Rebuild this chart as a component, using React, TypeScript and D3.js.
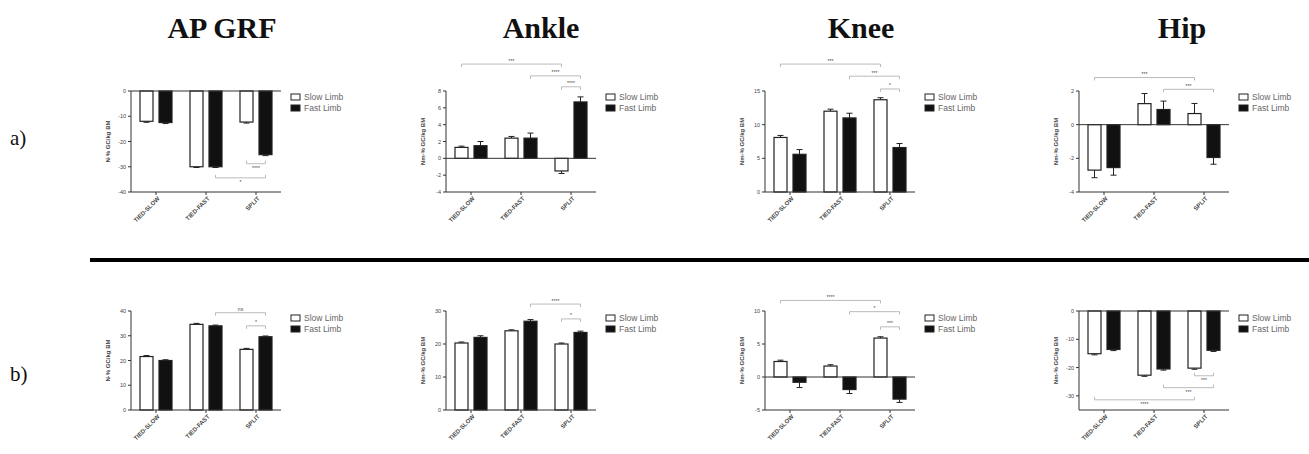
import React from "react";
import * as d3 from "d3";

const categories = ["TIED-SLOW", "TIED-FAST", "SPLIT"];
const limbs = ["Slow Limb", "Fast Limb"];
const columnTitles = ["AP GRF", "Ankle", "Knee", "Hip"];
const rowLabels = ["a)", "b)"];
const yAxisTitles = ["N·% GC/kg BM", "Nm·% GC/kg BM", "Nm·% GC/kg BM", "Nm·% GC/kg BM"];

// panels: row a (AP GRF, Ankle, Knee, Hip), row b (same)
const yDomains = [
  [-40, 0], [-4, 8], [0, 15], [-4, 2],
  [0, 40], [0, 30], [-5, 10], [-35, 0],
];
const yTickValues = [
  [0, -10, -20, -30, -40], [-4, -2, 0, 2, 4, 6, 8], [0, 5, 10, 15], [-4, -2, 0, 2],
  [0, 10, 20, 30, 40], [0, 10, 20, 30], [-5, 0, 5, 10], [0, -10, -20, -30],
];
const slowLimbMeans = [
  [-12, -30, -12.3], [1.3, 2.4, -1.5], [8.1, 12.0, 13.7], [-2.7, 1.25, 0.66],
  [21.6, 34.6, 24.5], [20.3, 24.0, 20.0], [2.35, 1.66, 5.9], [-15.1, -22.7, -20.2],
];
const slowLimbErrors = [
  [0.4, 0.3, 0.4], [0.15, 0.2, 0.3], [0.3, 0.3, 0.3], [0.45, 0.6, 0.6],
  [0.4, 0.4, 0.4], [0.3, 0.3, 0.3], [0.2, 0.2, 0.2], [0.4, 0.4, 0.4],
];
const fastLimbMeans = [
  [-12.5, -30, -25.2], [1.5, 2.4, 6.7], [5.6, 11.0, 6.6], [-2.55, 0.9, -1.95],
  [20.0, 34.0, 29.6], [22.0, 26.9, 23.5], [-0.8, -1.9, -3.35], [-13.6, -20.5, -13.9],
];
const fastLimbErrors = [
  [0.4, 0.3, 0.4], [0.5, 0.6, 0.6], [0.7, 0.7, 0.6], [0.45, 0.5, 0.4],
  [0.3, 0.3, 0.3], [0.5, 0.5, 0.4], [0.8, 0.6, 0.5], [0.4, 0.4, 0.4],
];
// bracket: [fromBar, toBar, yValue, label]; bar index = category*2 + limb
const significance: [number, number, number, string][][] = [
  [[4, 5, -28.8, "****"], [3, 5, -34.4, "*"]],
  [[0, 4, 11.2, "***"], [3, 5, 9.8, "****"], [4, 5, 8.5, "****"]],
  [[0, 4, 19.0, "***"], [3, 5, 17.2, "***"], [4, 5, 15.3, "*"]],
  [[0, 4, 2.8, "***"], [3, 5, 2.1, "***"]],
  [[3, 5, 39.3, "ns"], [4, 5, 34.0, "*"]],
  [[3, 5, 32.1, "****"], [4, 5, 27.6, "*"]],
  [[0, 4, 11.6, "****"], [3, 5, 9.9, "*"], [4, 5, 7.6, "***"]],
  [[4, 5, -22.9, "***"], [3, 5, -27.1, "***"], [0, 4, -31.4, "****"]],
];

const colLefts = [131, 446, 765, 1079];
const rowTops = [91, 311];
const rowBottoms = [192, 410];
const titleX = [222, 541, 861, 1182];
const plotW = 150;
const legendY = [[97, 108], [318, 329]];

function Panel({ i }: { i: number }) {
  const row = Math.floor(i / 4);
  const col = i % 4;
  const left = colLefts[col];
  const top = rowTops[row];
  const bottom = rowBottoms[row];
  const x = d3.scaleBand().domain(categories).range([left, left + plotW]).padding(0);
  const xi = d3.scaleBand().domain(limbs).range([0, x.bandwidth()]).paddingInner(0.263).paddingOuter(0.447);
  const y = d3.scaleLinear().domain(yDomains[i]).range([bottom, top]);
  const means = [slowLimbMeans[i], fastLimbMeans[i]];
  const errs = [slowLimbErrors[i], fastLimbErrors[i]];
  const bw = xi.bandwidth();
  const barCenter = (b: number) => (x(categories[Math.floor(b / 2)]) as number) + (xi(limbs[b % 2]) as number) + bw / 2;
  const y0 = y(0);
  const font = "Arial, 'Liberation Sans', sans-serif";
  return (
    <g>
      {categories.map((c, j) =>
        limbs.map((l, k) => {
          const v = means[k][j];
          const e = errs[k][j];
          const bx = (x(c) as number) + (xi(l) as number);
          const yt = Math.min(y(v), y0);
          const h = Math.abs(y(v) - y0);
          const end = v + Math.sign(v) * e;
          const cx = bx + bw / 2;
          return (
            <g key={c + l}>
              <line x1={cx} x2={cx} y1={y(v)} y2={y(end)} stroke="#222" strokeWidth={1} />
              <line x1={cx - 3} x2={cx + 3} y1={y(end)} y2={y(end)} stroke="#222" strokeWidth={1} />
              <rect x={bx + 0.5} y={yt} width={bw - 1} height={h}
                fill={k === 0 ? "#fff" : "#111"} stroke="#222" strokeWidth={1.2} />
            </g>
          );
        })
      )}
      <line x1={left} x2={left} y1={y(yDomains[i][0])} y2={y(yDomains[i][1])} stroke="#333" strokeWidth={1} />
      {yTickValues[i].map((t) => (
        <g key={t}>
          <line x1={left - 3} x2={left} y1={y(t)} y2={y(t)} stroke="#333" strokeWidth={1} />
          <text x={left - 5} y={y(t) + 2} fontSize={5.5} textAnchor="end" fill="#444" fontFamily={font}>{t}</text>
        </g>
      ))}
      <text transform={`translate(${left - 21},${(top + bottom) / 2}) rotate(-90)`} fontSize={6} fontWeight="bold"
        textAnchor="middle" fill="#444" fontFamily={font}>{yAxisTitles[col]}</text>
      <line x1={left} x2={left + plotW} y1={bottom} y2={bottom} stroke="#333" strokeWidth={1} />
      {y0 !== bottom && <line x1={left} x2={left + plotW} y1={y0} y2={y0} stroke="#333" strokeWidth={1} />}
      {categories.map((c) => {
        const cx = (x(c) as number) + x.bandwidth() / 2;
        return (
          <g key={c}>
            <line x1={cx} x2={cx} y1={bottom} y2={bottom + 3} stroke="#333" strokeWidth={1} />
            <text transform={`translate(${cx + 4},${bottom + 7}) rotate(-45)`} fontSize={6} fontWeight="bold"
              textAnchor="end" fill="#444" fontFamily={font}>{c}</text>
          </g>
        );
      })}
      {significance[i].map(([a, b, v, label], n) => {
        const by = y(v);
        const below = v < 0;
        const tick = below ? -3 : 3;
        const x1 = barCenter(a);
        const x2 = barCenter(b);
        return (
          <g key={n}>
            <line x1={x1} x2={x2} y1={by} y2={by} stroke="#aaa" strokeWidth={0.8} />
            <line x1={x1} x2={x1} y1={by} y2={by + tick} stroke="#aaa" strokeWidth={0.8} />
            <line x1={x2} x2={x2} y1={by} y2={by + tick} stroke="#aaa" strokeWidth={0.8} />
            <text x={(x1 + x2) / 2} y={below ? by + 6 : by - 1.5} fontSize={5} textAnchor="middle"
              fill="#444" fontFamily={font}>{label}</text>
          </g>
        );
      })}
      {limbs.map((l, k) => (
        <g key={l}>
          <rect x={left + 160} y={legendY[row][k] - 3} width={9} height={6}
            fill={k === 0 ? "#fff" : "#111"} stroke="#222" strokeWidth={1} />
          <text x={left + 173} y={legendY[row][k] + 3} fontSize={8.5} fill="#666" fontFamily={font}>{l}</text>
        </g>
      ))}
    </g>
  );
}

export default function App() {
  return (
    <svg width={1309} height={454} style={{ position: "absolute", left: 0, top: 0, background: "#fff" }}>
      <rect width={1309} height={454} fill="#fff" />
      {columnTitles.map((t, c) => (
        <text key={t} x={titleX[c]} y={38} fontSize={30} fontWeight="bold" textAnchor="middle"
          fontFamily="'Liberation Serif', 'Times New Roman', serif" fill="#111">{t}</text>
      ))}
      {rowLabels.map((r, k) => (
        <text key={r} x={10} y={k === 0 ? 145 : 381} fontSize={21}
          fontFamily="'Liberation Serif', 'Times New Roman', serif" fill="#111">{r}</text>
      ))}
      <line x1={90} x2={1309} y1={260} y2={260} stroke="#000" strokeWidth={4} />
      {d3.range(8).map((i) => <Panel key={i} i={i} />)}
    </svg>
  );
}
